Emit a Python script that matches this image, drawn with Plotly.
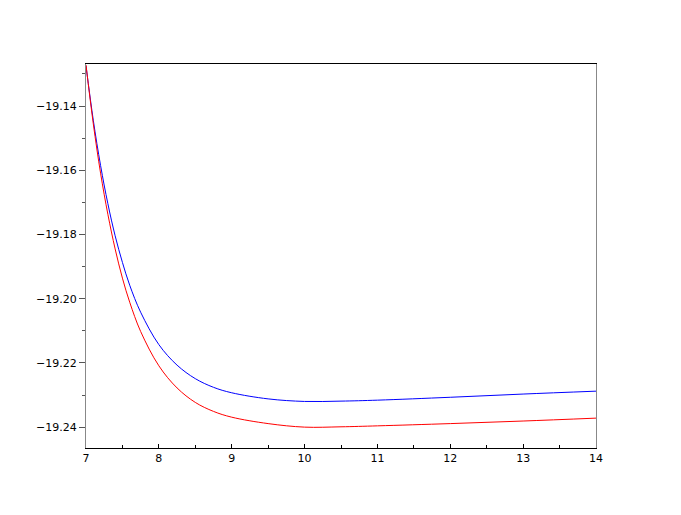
import plotly.graph_objects as go

# values
x = [7.0, 7.1, 7.2, 7.3, 7.4, 7.5, 7.6, 7.75, 8.0, 8.25, 8.5, 8.75,
     9.0, 9.5, 10.0, 10.5, 11.0, 12.0, 13.0, 14.0]
blue_y = [-19.1275, -19.1444, -19.1585, -19.1704, -19.1804, -19.1887, -19.1958,
          -19.2042, -19.2143, -19.2207, -19.2249, -19.2276, -19.2293, -19.2312,
          -19.2320, -19.2319, -19.2316, -19.2307, -19.2297, -19.2288]
red_y = [-19.1272, -19.1455, -19.1609, -19.1737, -19.1845, -19.1936, -19.2011,
         -19.2102, -19.2209, -19.2278, -19.2323, -19.2351, -19.2369, -19.2389,
         -19.2400, -19.2399, -19.2396, -19.2389, -19.2381, -19.2372]

y_ticks = [-19.14, -19.16, -19.18, -19.20, -19.22, -19.24]
y_labels = ["\u221219.14", "\u221219.16", "\u221219.18", "\u221219.20", "\u221219.22", "\u221219.24"]

fig = go.Figure()
fig.add_trace(go.Scatter(x=x, y=blue_y, mode='lines',
                         line=dict(color='#0000ff', width=1, shape='spline')))
fig.add_trace(go.Scatter(x=x, y=red_y, mode='lines',
                         line=dict(color='#ff0000', width=1, shape='spline')))

# the page body adds ~8px offset, so margins are shifted to compensate
fig.update_layout(
    width=681, height=515,
    margin=dict(l=78, r=93, t=56, b=75),
    paper_bgcolor='white', plot_bgcolor='white',
    showlegend=False,
    font=dict(family='DejaVu Sans', size=11, color='black'),
)
fig.update_xaxes(
    range=[7, 14], tickvals=[7, 8, 9, 10, 11, 12, 13, 14],
    showgrid=False, zeroline=False,
    showline=True, linecolor='black', linewidth=1, mirror=True,
    ticks='inside', ticklen=4, tickcolor='black',
    minor=dict(dtick=0.5, ticks='inside', ticklen=3, tickcolor='black', showgrid=False),
)
fig.update_yaxes(
    range=[-19.2465, -19.1269], tickvals=y_ticks, ticktext=y_labels,
    showgrid=False, zeroline=False,
    showline=True, linecolor='#888888', linewidth=1, mirror=True,
    ticks='outside', ticklen=6, tickcolor='#555555',
    minor=dict(tickvals=[-19.13, -19.15, -19.17, -19.19, -19.21, -19.23],
               ticks='outside', ticklen=3, tickcolor='#555555', showgrid=False),
)

fig.write_html("out.html")
